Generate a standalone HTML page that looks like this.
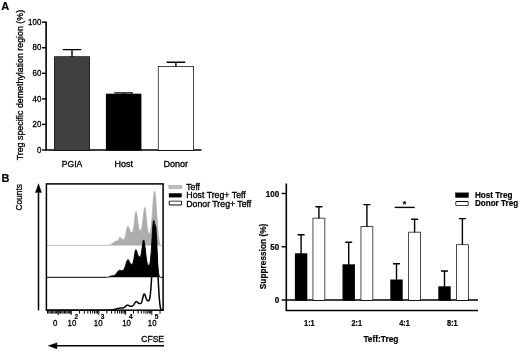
<!DOCTYPE html>
<html><head><meta charset="utf-8"><title>Figure</title>
<style>html,body{margin:0;padding:0;background:#fff}svg{display:block}</style>
</head><body>
<svg width="520" height="355" viewBox="0 0 520 355">
<rect width="520" height="355" fill="#fff"/>
<g font-family="'Liberation Sans', sans-serif" fill="#000" stroke="#000" stroke-width="0.32" paint-order="stroke">
<text x="1.2" y="9.6" font-size="11" font-weight="bold" stroke-width="0.2">A</text>
<text transform="translate(22.8,160.3) rotate(-90)" font-size="9" textLength="150.4" lengthAdjust="spacingAndGlyphs">Treg specific demethylation region (%)</text>
<path d="M46.1,21.4 V150.8 M45.300000000000004,150.0 H201.5" stroke="#000" stroke-width="1.6" fill="none"/>
<path d="M42,150.00 H46.1" stroke="#000" stroke-width="1.4"/>
<text x="41.3" y="152.70" font-size="8.8" text-anchor="end" textLength="4.4" lengthAdjust="spacingAndGlyphs">0</text>
<path d="M42,124.44 H46.1" stroke="#000" stroke-width="1.4"/>
<text x="41.3" y="127.14" font-size="8.8" text-anchor="end" textLength="8.8" lengthAdjust="spacingAndGlyphs">20</text>
<path d="M42,98.88 H46.1" stroke="#000" stroke-width="1.4"/>
<text x="41.3" y="101.58" font-size="8.8" text-anchor="end" textLength="8.8" lengthAdjust="spacingAndGlyphs">40</text>
<path d="M42,73.32 H46.1" stroke="#000" stroke-width="1.4"/>
<text x="41.3" y="76.02" font-size="8.8" text-anchor="end" textLength="8.8" lengthAdjust="spacingAndGlyphs">60</text>
<path d="M42,47.76 H46.1" stroke="#000" stroke-width="1.4"/>
<text x="41.3" y="50.46" font-size="8.8" text-anchor="end" textLength="8.8" lengthAdjust="spacingAndGlyphs">80</text>
<path d="M42,22.20 H46.1" stroke="#000" stroke-width="1.4"/>
<text x="41.3" y="24.90" font-size="8.8" text-anchor="end" textLength="13.2" lengthAdjust="spacingAndGlyphs">100</text>
<rect x="54.8" y="57.00" width="34.4" height="93.00" fill="#404040" stroke="#000" stroke-width="1.4"/>
<path d="M72.00,57.00 V49.60 M62.70,49.60 H81.30" stroke="#000" stroke-width="1.4" fill="none"/>
<rect x="106.6" y="94.40" width="34.1" height="55.60" fill="#000" stroke="#000" stroke-width="1.4"/>
<path d="M123.65,94.40 V92.90 M114.35,92.90 H132.95" stroke="#000" stroke-width="1.4" fill="none"/>
<rect x="158.6" y="66.80" width="34.6" height="83.20" fill="#fff" stroke="#000" stroke-width="1.4"/>
<path d="M175.90,66.80 V62.20 M166.60,62.20 H185.20" stroke="#000" stroke-width="1.4" fill="none"/>
<text x="72" y="166.6" font-size="9" text-anchor="middle" textLength="20.5" lengthAdjust="spacingAndGlyphs">PGIA</text>
<text x="123.8" y="167.4" font-size="9" text-anchor="middle" textLength="18.5" lengthAdjust="spacingAndGlyphs">Host</text>
<text x="175.7" y="166.8" font-size="9" text-anchor="middle" textLength="24.6" lengthAdjust="spacingAndGlyphs">Donor</text>
<text x="1.6" y="181.6" font-size="11" font-weight="bold" stroke-width="0.2">B</text>
<text transform="translate(22.4,210.6) rotate(-90)" font-size="8.5" textLength="26.5" lengthAdjust="spacingAndGlyphs">Counts</text>
<path d="M38.5,310.4 V190" stroke="#000" stroke-width="1.5"/>
<path d="M38.5,183.6 L41.6,192.6 L35.4,192.6 Z" fill="#000"/>
<path d="M46.3,245.4 L106.00,245.40 106.25,245.40 106.50,245.40 106.75,245.39 107.00,245.39 107.25,245.38 107.50,245.36 107.75,245.34 108.00,245.31 108.25,245.28 108.50,245.24 108.75,245.19 109.00,245.13 109.25,245.06 109.50,244.99 109.75,244.90 110.00,244.81 110.25,244.70 110.50,244.59 110.75,244.47 111.00,244.34 111.25,244.20 111.50,244.05 111.75,243.89 112.00,243.73 112.25,243.56 112.50,243.38 112.75,243.21 113.00,243.02 113.25,242.84 113.50,242.66 113.75,242.47 114.00,242.29 114.25,242.12 114.50,241.95 114.75,241.78 115.00,241.63 115.25,241.49 115.50,241.35 115.75,241.24 116.00,241.13 116.25,241.05 116.50,240.98 116.75,240.93 117.00,240.91 117.20,240.90 117.45,240.89 117.70,240.83 117.95,240.68 118.20,240.41 118.45,240.02 118.70,239.52 118.95,238.95 119.20,238.35 119.45,237.80 119.70,237.39 119.95,237.21 120.00,237.20 120.25,237.26 120.50,237.42 120.75,237.66 121.00,237.95 121.25,238.25 121.50,238.55 121.75,238.81 122.00,239.02 122.25,239.19 122.50,239.30 122.75,239.36 123.00,239.39 123.25,239.40 123.30,239.40 123.55,239.39 123.80,239.33 124.05,239.20 124.30,238.95 124.55,238.57 124.80,238.04 125.05,237.34 125.30,236.48 125.55,235.47 125.80,234.32 126.05,233.08 126.30,231.77 126.55,230.47 126.80,229.23 127.05,228.11 127.30,227.20 127.55,226.55 127.80,226.23 127.90,226.20 128.15,226.32 128.40,226.67 128.65,227.20 128.90,227.85 129.15,228.58 129.40,229.33 129.65,230.05 129.90,230.71 130.15,231.28 130.40,231.74 130.65,232.10 130.90,232.34 131.15,232.50 131.40,232.57 131.65,232.60 131.80,232.60 132.05,232.58 132.30,232.47 132.55,232.19 132.80,231.68 133.05,230.91 133.30,229.83 133.55,228.44 133.80,226.75 134.05,224.80 134.30,222.64 134.55,220.37 134.80,218.10 135.05,215.97 135.30,214.12 135.55,212.70 135.80,211.83 136.00,211.60 136.25,211.90 136.50,212.75 136.75,214.05 137.00,215.71 137.25,217.59 137.50,219.57 137.75,221.56 138.00,223.44 138.25,225.15 138.50,226.63 138.75,227.86 139.00,228.82 139.25,229.52 139.50,229.98 139.75,230.25 140.00,230.37 140.25,230.40 140.30,230.40 140.55,230.38 140.80,230.28 141.05,230.03 141.30,229.58 141.55,228.88 141.80,227.90 142.05,226.63 142.30,225.07 142.55,223.23 142.80,221.17 143.05,218.93 143.30,216.62 143.55,214.34 143.80,212.20 144.05,210.34 144.30,208.88 144.55,207.93 144.80,207.60 145.05,207.99 145.30,209.11 145.55,210.83 145.80,213.02 146.05,215.51 146.30,218.17 146.55,220.84 146.80,223.39 147.05,225.74 147.30,227.80 147.55,229.53 147.80,230.91 148.05,231.94 148.30,232.66 148.55,233.10 148.80,233.32 149.05,233.40 149.20,233.40 149.45,233.38 149.70,233.26 149.95,232.97 150.20,232.44 150.45,231.61 150.70,230.45 150.95,228.91 151.20,226.99 151.45,224.67 151.70,221.98 151.95,218.95 152.20,215.63 152.45,212.12 152.70,208.51 152.95,204.91 153.20,201.46 153.45,198.31 153.70,195.60 153.95,193.46 154.20,192.03 154.45,191.42 154.50,191.40 154.75,191.78 155.00,192.88 155.25,194.65 155.50,196.99 155.75,199.82 156.00,203.04 156.25,206.55 156.50,210.25 156.75,214.04 157.00,217.83 157.25,221.53 157.50,225.09 157.75,228.42 158.00,231.50 158.25,234.28 158.50,236.73 158.75,238.85 159.00,240.63 159.25,242.09 159.50,243.23 159.75,244.09 160.00,244.70 160.25,245.09 160.50,245.30 160.75,245.39 161.00,245.40 L163.4,245.4" fill="#adadad" stroke="#adadad" stroke-width="0.8"/>
<path d="M46.3,277.3 L106.00,277.30 106.25,277.30 106.50,277.30 106.75,277.29 107.00,277.28 107.25,277.25 107.50,277.22 107.75,277.19 108.00,277.14 108.25,277.07 108.50,277.00 108.75,276.92 109.00,276.83 109.25,276.73 109.50,276.62 109.75,276.51 110.00,276.39 110.25,276.28 110.50,276.17 110.75,276.07 111.00,275.98 111.25,275.91 111.50,275.85 111.75,275.81 112.00,275.80 112.25,275.80 112.50,275.79 112.75,275.78 113.00,275.75 113.25,275.71 113.50,275.66 113.75,275.58 114.00,275.48 114.25,275.36 114.50,275.22 114.75,275.05 115.00,274.85 115.25,274.64 115.50,274.39 115.75,274.13 116.00,273.84 116.25,273.54 116.50,273.22 116.75,272.90 117.00,272.56 117.25,272.23 117.50,271.91 117.75,271.60 118.00,271.31 118.25,271.04 118.50,270.81 118.75,270.61 119.00,270.46 119.25,270.36 119.50,270.30 119.60,270.30 119.85,270.31 120.10,270.34 120.35,270.37 120.60,270.41 120.85,270.44 121.10,270.47 121.35,270.49 121.60,270.50 121.85,270.50 122.00,270.50 122.25,270.50 122.50,270.47 122.75,270.42 123.00,270.32 123.25,270.17 123.50,269.95 123.75,269.67 124.00,269.31 124.25,268.86 124.50,268.34 124.75,267.74 125.00,267.07 125.25,266.34 125.50,265.56 125.75,264.74 126.00,263.91 126.25,263.09 126.50,262.30 126.75,261.56 127.00,260.91 127.25,260.36 127.50,259.95 127.75,259.69 128.00,259.60 128.25,259.70 128.50,259.96 128.75,260.37 129.00,260.87 129.25,261.42 129.50,261.99 129.75,262.52 130.00,263.01 130.25,263.42 130.50,263.75 130.75,263.99 131.00,264.15 131.25,264.25 131.50,264.29 131.75,264.30 131.80,264.30 132.05,264.28 132.30,264.19 132.55,263.97 132.80,263.57 133.05,262.96 133.30,262.11 133.55,261.02 133.80,259.71 134.05,258.21 134.30,256.59 134.55,254.92 134.80,253.31 135.05,251.87 135.30,250.72 135.55,249.97 135.80,249.70 136.05,249.84 136.30,250.22 136.55,250.81 136.80,251.53 137.05,252.34 137.30,253.17 137.55,253.98 137.80,254.71 138.05,255.34 138.30,255.85 138.55,256.24 138.80,256.52 139.05,256.68 139.30,256.77 139.55,256.80 139.70,256.80 139.95,256.78 140.20,256.67 140.45,256.39 140.70,255.89 140.95,255.13 141.20,254.09 141.45,252.75 141.70,251.15 141.95,249.33 142.20,247.38 142.45,245.41 142.70,243.54 142.95,241.93 143.20,240.71 143.45,240.02 143.60,239.90 143.85,240.18 144.10,240.98 144.35,242.23 144.60,243.86 144.85,245.78 145.10,247.89 145.35,250.10 145.60,252.33 145.85,254.50 146.10,256.54 146.35,258.41 146.60,260.07 146.85,261.49 147.10,262.66 147.35,263.59 147.60,264.28 147.85,264.77 148.10,265.07 148.35,265.23 148.60,265.29 148.80,265.30 149.05,265.27 149.30,265.11 149.55,264.72 149.80,264.02 150.05,262.93 150.30,261.39 150.55,259.38 150.80,256.88 151.05,253.89 151.30,250.47 151.55,246.68 151.80,242.63 152.05,238.45 152.30,234.30 152.55,230.37 152.80,226.84 153.05,223.92 153.30,221.78 153.55,220.60 153.70,220.40 153.95,220.77 154.20,221.83 154.45,223.54 154.70,225.81 154.95,228.58 155.20,231.74 155.45,235.20 155.70,238.87 155.95,242.66 156.20,246.49 156.45,250.27 156.70,253.94 156.95,257.43 157.20,260.69 157.45,263.68 157.70,266.38 157.95,268.76 158.20,270.81 158.45,272.55 158.70,273.97 158.95,275.09 159.20,275.95 159.45,276.55 159.70,276.95 159.95,277.18 160.20,277.28 160.45,277.30 160.50,277.30 L163.4,277.3" fill="#000" stroke="#000" stroke-width="1"/>
<path d="M46.3,310.2 L106.00,310.20 106.25,310.20 106.50,310.20 106.75,310.20 107.00,310.20 107.25,310.20 107.50,310.19 107.75,310.19 108.00,310.18 108.25,310.18 108.50,310.17 108.75,310.16 109.00,310.15 109.25,310.14 109.50,310.12 109.75,310.11 110.00,310.09 110.25,310.07 110.50,310.05 110.75,310.02 111.00,310.00 111.25,309.97 111.50,309.94 111.75,309.91 112.00,309.87 112.25,309.83 112.50,309.79 112.75,309.75 113.00,309.71 113.25,309.66 113.50,309.61 113.75,309.56 114.00,309.51 114.25,309.45 114.50,309.40 114.75,309.34 115.00,309.28 115.25,309.22 115.50,309.16 115.75,309.10 116.00,309.04 116.25,308.98 116.50,308.91 116.75,308.85 117.00,308.79 117.25,308.73 117.50,308.66 117.75,308.60 118.00,308.54 118.25,308.49 118.50,308.43 118.75,308.38 119.00,308.33 119.25,308.28 119.50,308.23 119.75,308.19 120.00,308.15 120.25,308.12 120.50,308.09 120.75,308.06 121.00,308.04 121.25,308.02 121.50,308.01 121.75,308.00 122.00,308.00 122.25,308.00 122.50,307.99 122.75,307.97 123.00,307.94 123.25,307.89 123.50,307.82 123.75,307.72 124.00,307.60 124.25,307.45 124.50,307.28 124.75,307.09 125.00,306.88 125.25,306.65 125.50,306.41 125.75,306.17 126.00,305.93 126.25,305.71 126.50,305.51 126.75,305.34 127.00,305.21 127.25,305.13 127.50,305.10 127.75,305.13 128.00,305.20 128.25,305.31 128.50,305.44 128.75,305.58 129.00,305.72 129.25,305.85 129.50,305.97 129.75,306.05 130.00,306.12 130.25,306.16 130.50,306.19 130.75,306.20 131.00,306.20 131.25,306.20 131.50,306.19 131.75,306.16 132.00,306.10 132.25,306.01 132.50,305.89 132.75,305.73 133.00,305.53 133.25,305.29 133.50,305.01 133.75,304.69 134.00,304.34 134.25,303.96 134.50,303.58 134.75,303.19 135.00,302.81 135.25,302.46 135.50,302.15 135.75,301.90 136.00,301.72 136.25,301.62 136.40,301.60 136.65,301.64 136.90,301.77 137.15,301.96 137.40,302.19 137.65,302.44 137.90,302.69 138.15,302.93 138.40,303.13 138.65,303.30 138.90,303.43 139.15,303.51 139.40,303.57 139.65,303.59 139.90,303.60 140.00,303.60 140.25,303.59 140.50,303.54 140.75,303.41 141.00,303.18 141.25,302.83 141.50,302.33 141.75,301.70 142.00,300.93 142.25,300.03 142.50,299.05 142.75,298.01 143.00,296.97 143.25,296.00 143.50,295.15 143.75,294.50 144.00,294.10 144.20,294.00 144.45,294.12 144.70,294.45 144.95,294.97 145.20,295.61 145.45,296.34 145.70,297.10 145.95,297.84 146.20,298.53 146.45,299.15 146.70,299.67 146.95,300.08 147.20,300.39 147.45,300.60 147.70,300.72 147.95,300.78 148.20,300.80 148.30,300.80 148.55,300.78 148.80,300.67 149.05,300.40 149.30,299.90 149.55,299.12 149.80,298.01 150.05,296.54 150.30,294.66 150.55,292.35 150.80,289.60 151.05,286.41 151.30,282.78 151.55,278.75 151.80,274.35 152.05,269.65 152.30,264.70 152.55,259.59 152.80,254.43 153.05,249.33 153.30,244.39 153.55,239.76 153.80,235.56 154.05,231.92 154.30,228.96 154.55,226.79 154.80,225.52 155.00,225.20 155.25,225.75 155.50,227.34 155.75,229.89 156.00,233.29 156.25,237.41 156.50,242.13 156.75,247.31 157.00,252.79 157.25,258.46 157.50,264.17 157.75,269.82 158.00,275.30 158.25,280.51 158.50,285.38 158.75,289.85 159.00,293.88 159.25,297.44 159.50,300.51 159.75,303.10 160.00,305.23 160.25,306.90 160.50,308.18 160.75,309.08 161.00,309.68 161.25,310.02 161.50,310.17 161.75,310.20 161.80,310.20 L163.4,310.2" fill="none" stroke="#000" stroke-width="1.5" stroke-linejoin="round"/>
<rect x="46.4" y="183.9" width="116.7" height="126.3" fill="none" stroke="#000" stroke-width="1.5"/>
<path d="M71.20,310.2 v4.6 M79.51,310.2 v3.4 M84.37,310.2 v3.4 M87.82,310.2 v3.4 M90.49,310.2 v3.4 M92.68,310.2 v3.4 M94.52,310.2 v3.4 M96.13,310.2 v3.4 M97.54,310.2 v3.4 M98.80,310.2 v4.6 M106.87,310.2 v3.4 M111.59,310.2 v3.4 M114.94,310.2 v3.4 M117.53,310.2 v3.4 M119.65,310.2 v3.4 M121.45,310.2 v3.4 M123.00,310.2 v3.4 M124.37,310.2 v3.4 M125.60,310.2 v4.6 M133.49,310.2 v3.4 M138.10,310.2 v3.4 M141.37,310.2 v3.4 M143.91,310.2 v3.4 M145.99,310.2 v3.4 M147.74,310.2 v3.4 M149.26,310.2 v3.4 M150.60,310.2 v3.4 M151.80,310.2 v4.6 M160.02,310.2 v3.4 M47.50,310.2 v3.4 M48.80,310.2 v3.4 M50.10,310.2 v3.4 M51.40,310.2 v3.4 M52.70,310.2 v3.4 M54.00,310.2 v3.4 M55.30,310.2 v3.4 M56.60,310.2 v3.4 M57.90,310.2 v3.4 M59.20,310.2 v3.4 M60.50,310.2 v3.4 M61.80,310.2 v3.4 M63.10,310.2 v3.4 M64.40,310.2 v3.4 M65.70,310.2 v3.4 M67.00,310.2 v3.4 M68.30,310.2 v3.4 M69.60,310.2 v3.4 M70.90,310.2 v3.4 M58.20,310.2 v4.8" stroke="#000" stroke-width="1"/>
<text x="55.1" y="326" font-size="8.8" text-anchor="middle" textLength="4.4" lengthAdjust="spacingAndGlyphs">0</text>
<text x="67.6" y="326" font-size="8.8" textLength="8.7" lengthAdjust="spacingAndGlyphs">10</text>
<text x="74.5" y="318.8" font-size="6.5" font-weight="bold" stroke-width="0.2">2</text>
<text x="93.8" y="326" font-size="8.8" textLength="8.7" lengthAdjust="spacingAndGlyphs">10</text>
<text x="100.7" y="318.8" font-size="6.5" font-weight="bold" stroke-width="0.2">3</text>
<text x="122.2" y="326" font-size="8.8" textLength="8.7" lengthAdjust="spacingAndGlyphs">10</text>
<text x="129.1" y="318.8" font-size="6.5" font-weight="bold" stroke-width="0.2">4</text>
<text x="147.8" y="326" font-size="8.8" textLength="8.7" lengthAdjust="spacingAndGlyphs">10</text>
<text x="154.70000000000002" y="318.8" font-size="6.5" font-weight="bold" stroke-width="0.2">5</text>
<text x="141.3" y="342.2" font-size="8.5" textLength="22.7" lengthAdjust="spacingAndGlyphs">CFSE</text>
<path d="M164,345.8 H55" stroke="#000" stroke-width="1.5"/>
<path d="M48.2,345.8 L57,342.7 L57,348.9 Z" fill="#000"/>
<rect x="169" y="185.3" width="12.6" height="3.4" fill="#bcbcbc"/>
<rect x="169" y="193.4" width="12.6" height="3.8" fill="#000"/>
<rect x="169.6" y="201.6" width="11.6" height="3.0" rx="0.3" fill="#fff" stroke="#000" stroke-width="1.8"/>
<text x="186.3" y="190.2" font-size="8.5" textLength="13.7" lengthAdjust="spacingAndGlyphs">Teff</text>
<text x="186.3" y="198.4" font-size="8.5" textLength="59.5" lengthAdjust="spacingAndGlyphs">Host Treg+ Teff</text>
<text x="186.3" y="206.6" font-size="8.5" textLength="65" lengthAdjust="spacingAndGlyphs">Donor Treg+ Teff</text>
<path d="M286.3,183.4 V311.2 M285.5,310.5 H478 M286.3,300.0 H478" stroke="#000" stroke-width="1.6" fill="none"/>
<path d="M281.6,300.00 H286.3" stroke="#000" stroke-width="1.4"/>
<text x="279.2" y="303.10" font-size="8.6" font-weight="bold" stroke-width="0.2" text-anchor="end" textLength="4.5" lengthAdjust="spacingAndGlyphs">0</text>
<path d="M281.6,246.75 H286.3" stroke="#000" stroke-width="1.4"/>
<text x="279.2" y="249.85" font-size="8.6" font-weight="bold" stroke-width="0.2" text-anchor="end" textLength="8.9" lengthAdjust="spacingAndGlyphs">50</text>
<path d="M281.6,193.50 H286.3" stroke="#000" stroke-width="1.4"/>
<text x="279.2" y="196.60" font-size="8.6" font-weight="bold" stroke-width="0.2" text-anchor="end" textLength="13.4" lengthAdjust="spacingAndGlyphs">100</text>
<text transform="translate(266.2,289.2) rotate(-90)" font-size="8.5" font-weight="bold" stroke-width="0.2" textLength="65.5" lengthAdjust="spacingAndGlyphs">Suppression (%)</text>
<rect x="295.6" y="254.0" width="11" height="46.00" fill="#000" stroke="#000" stroke-width="1.4"/>
<path d="M301.1,254.0 V234.8 M297.6,234.8 H304.6" stroke="#000" stroke-width="1.4" fill="none"/>
<rect x="343.2" y="265.0" width="11" height="35.00" fill="#000" stroke="#000" stroke-width="1.4"/>
<path d="M348.7,265.0 V242.3 M345.2,242.3 H352.2" stroke="#000" stroke-width="1.4" fill="none"/>
<rect x="391.0" y="280.2" width="11" height="19.80" fill="#000" stroke="#000" stroke-width="1.4"/>
<path d="M396.5,280.2 V263.7 M393.0,263.7 H400.0" stroke="#000" stroke-width="1.4" fill="none"/>
<rect x="439.0" y="287.0" width="11" height="13.00" fill="#000" stroke="#000" stroke-width="1.4"/>
<path d="M444.5,287.0 V271.0 M441.0,271.0 H448.0" stroke="#000" stroke-width="1.4" fill="none"/>
<rect x="313.3" y="218.5" width="11.2" height="81.50" fill="#fff" stroke="#000" stroke-width="1.4"/>
<path d="M318.90000000000003,218.5 V206.8 M315.40000000000003,206.8 H322.40000000000003" stroke="#000" stroke-width="1.4" fill="none"/>
<rect x="361.3" y="226.9" width="11.2" height="73.10" fill="#fff" stroke="#000" stroke-width="1.4"/>
<path d="M366.90000000000003,226.9 V204.6 M363.40000000000003,204.6 H370.40000000000003" stroke="#000" stroke-width="1.4" fill="none"/>
<rect x="409.0" y="232.5" width="11.2" height="67.50" fill="#fff" stroke="#000" stroke-width="1.4"/>
<path d="M414.6,232.5 V219.3 M411.1,219.3 H418.1" stroke="#000" stroke-width="1.4" fill="none"/>
<rect x="456.8" y="245.1" width="11.2" height="54.90" fill="#fff" stroke="#000" stroke-width="1.4"/>
<path d="M462.40000000000003,245.1 V218.6 M458.90000000000003,218.6 H465.90000000000003" stroke="#000" stroke-width="1.4" fill="none"/>
<text x="309.4" y="325.8" font-size="8.5" font-weight="bold" stroke-width="0.2" text-anchor="middle" textLength="10.6" lengthAdjust="spacingAndGlyphs">1:1</text>
<text x="356.8" y="325.8" font-size="8.5" font-weight="bold" stroke-width="0.2" text-anchor="middle" textLength="10.6" lengthAdjust="spacingAndGlyphs">2:1</text>
<text x="404.6" y="325.8" font-size="8.5" font-weight="bold" stroke-width="0.2" text-anchor="middle" textLength="10.6" lengthAdjust="spacingAndGlyphs">4:1</text>
<text x="452.2" y="325.8" font-size="8.5" font-weight="bold" stroke-width="0.2" text-anchor="middle" textLength="10.6" lengthAdjust="spacingAndGlyphs">8:1</text>
<text x="363.4" y="341.6" font-size="8.5" font-weight="bold" stroke-width="0.2" textLength="35" lengthAdjust="spacingAndGlyphs">Teff:Treg</text>
<path d="M394.7,207.4 H414.7" stroke="#000" stroke-width="1.4"/>
<text x="404.6" y="206.8" font-size="9" font-weight="bold" stroke-width="0.2" text-anchor="middle">*</text>
<rect x="455.4" y="192.8" width="13.2" height="4.8" fill="#000"/>
<rect x="456.2" y="201.9" width="11.6" height="3.4" rx="0.6" fill="#fff" stroke="#000" stroke-width="1.6"/>
<text x="474.9" y="198.1" font-size="8.5" font-weight="bold" stroke-width="0.2" textLength="37.7" lengthAdjust="spacingAndGlyphs">Host Treg</text>
<text x="474.9" y="206.3" font-size="8.5" font-weight="bold" stroke-width="0.2" textLength="43.2" lengthAdjust="spacingAndGlyphs">Donor Treg</text>
</g></svg>
</body></html>
